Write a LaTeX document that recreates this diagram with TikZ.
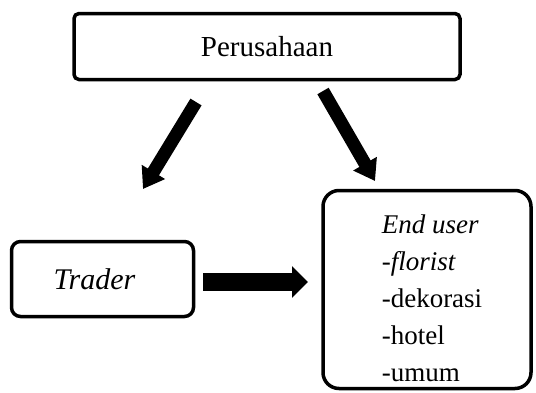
\documentclass[tikz,border=0pt]{standalone}
\usepackage{fontspec}
\setmainfont{Liberation Serif}
\usetikzlibrary{arrows.meta}
\begin{document}
\begin{tikzpicture}[x=0.5pt,y=-0.5pt,
  box/.style={draw=black,line width=1.75pt,fill=white,inner sep=0pt,outer sep=0pt},
  bigarrow/.style={line width=6.5pt,-{Triangle[width=13pt,length=10pt]}},
  harrow/.style={line width=9pt,-{Triangle[width=15.5pt,length=8pt]}}]
\useasboundingbox (0,0) rectangle (536,392);
\node[box,rounded corners=2.5pt,minimum width=193pt,minimum height=33pt,
  font=\fontsize{14.5}{18}\selectfont] (per) at (267,46.5) {Perusahaan};
\node[box,rounded corners=4.5pt,minimum width=91pt,minimum height=37.5pt,
  font=\fontsize{15}{18}\selectfont\itshape] (tr) at (102.5,279) {\hspace*{-8pt}Trader};
\node[box,rounded corners=8pt,minimum width=104pt,minimum height=99pt,
  align=left,font=\fontsize{13.5}{18.5}\selectfont] (eu) at (427,289.5)
  {\rule{0pt}{18.5pt}\hspace*{5pt}\textit{End user}\\\hspace*{5pt}-\textit{florist}\\\hspace*{5pt}-dekorasi\\\hspace*{5pt}-hotel\\\hspace*{5pt}-umum};
\coordinate (a1s) at (196,102);
\coordinate (a1e) at (143,189);
\coordinate (a2s) at (323,91);
\coordinate (a2e) at (375,181);
\coordinate (a3s) at (203,282);
\coordinate (a3e) at (308,282);
\draw[bigarrow] (a1s) -- (a1e);
\draw[bigarrow] (a2s) -- (a2e);
\draw[harrow] (a3s) -- (a3e);
\end{tikzpicture}
\end{document}
